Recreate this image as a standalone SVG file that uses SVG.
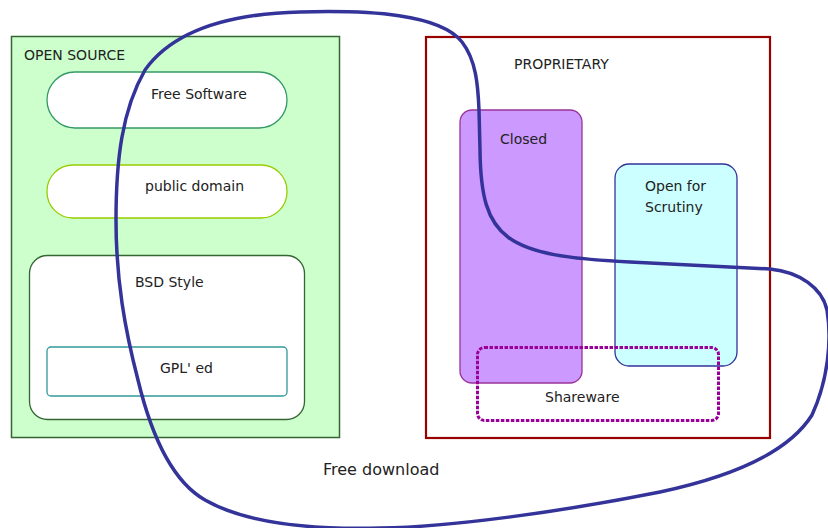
<svg xmlns="http://www.w3.org/2000/svg" width="828" height="528" viewBox="0 0 828 528">
<style>
text{font-family:"DejaVu Sans","Liberation Sans",Arial,sans-serif;font-size:14px;fill:#222}
.big{font-size:16px}
.box{stroke-width:1.3}
</style>
<rect width="828" height="528" fill="#ffffff"/>
<g id="open-source">
<rect x="11.5" y="36.5" width="328" height="401" fill="#ccffcc" stroke="#336633" stroke-width="1.5"/>
<text x="24" y="60">OPEN SOURCE</text>
</g>
<g id="free-software">
<rect x="47" y="72" width="240" height="56" rx="28" fill="#ffffff" stroke="#339966" class="box"/>
<text x="151" y="99">Free Software</text>
</g>
<g id="public-domain">
<rect x="47" y="165" width="240" height="53" rx="26" fill="#ffffff" stroke="#99cc00" class="box"/>
<text x="145" y="191">public domain</text>
</g>
<g id="bsd-style">
<rect x="29.5" y="255.5" width="275" height="164" rx="18" fill="#ffffff" stroke="#336633" class="box"/>
<text x="135" y="287">BSD Style</text>
</g>
<g id="gpled">
<rect x="47" y="347" width="240" height="49" rx="4" fill="#ffffff" stroke="#339999" class="box"/>
<text x="160" y="373">GPL' ed</text>
</g>
<g id="proprietary">
<rect x="426" y="37" width="344" height="401" fill="#ffffff" stroke="#990000" stroke-width="2.2"/>
<text x="514" y="69">PROPRIETARY</text>
</g>
<g id="closed">
<rect x="460" y="110" width="122" height="273" rx="12" fill="#cc99ff" stroke="#993399" class="box"/>
<text x="500" y="144">Closed</text>
</g>
<g id="open-for-scrutiny">
<rect x="615" y="164" width="122" height="202" rx="14" fill="#ccffff" stroke="#333399" class="box"/>
<text x="645" y="191">Open for</text>
<text x="645" y="212">Scrutiny</text>
</g>
<g id="shareware">
<rect x="477.5" y="347.5" width="241" height="73" rx="7" fill="none" stroke="#990099" stroke-width="3" stroke-dasharray="3.5 1.5"/>
<text x="545" y="402">Shareware</text>
</g>
<g id="free-download">
<path d="M 300 12 C 370 10 440 14 462 42 C 476 60 478 85 479 110 L 480 150 C 481 240 505 256 630 262 L 770 269 C 800 272 822 288 827 310 C 832 340 828 380 812 415 C 790 450 740 475 660 492 C 560 512 450 527 380 528 C 300 530 240 520 205 500 C 170 480 150 430 138 380 C 125 330 116 280 116 220 C 116 160 122 110 145 70 C 170 35 220 14 300 12 Z" fill="none" stroke="#333399" stroke-width="3.5"/>
<text class="big" x="323" y="475">Free download</text>
</g>
</svg>
